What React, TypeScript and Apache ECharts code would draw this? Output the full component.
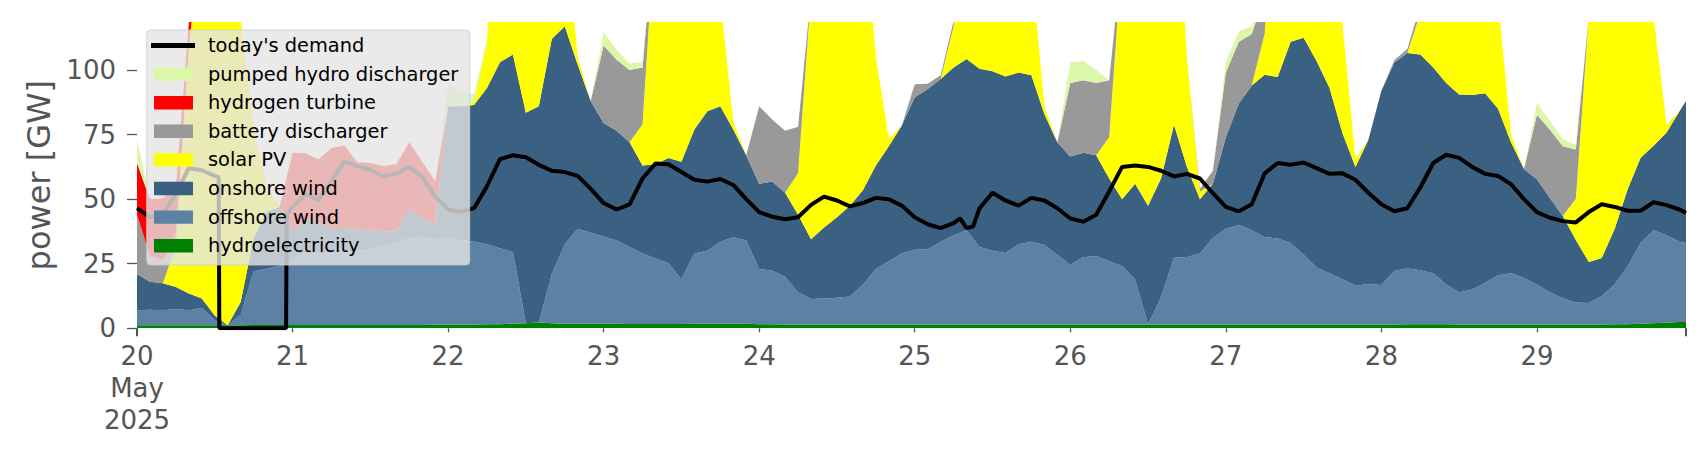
import { useEffect, useRef } from "react";
import * as echarts from "echarts";

// hours after 20 May 2025 00:00 (h = 0) … 29 May 23:00 (h = 239)
const hourCategories: string[] = [];
for (let h = 0; h < 240; h++) hourCategories.push(String(h));

// supply values are sampled every 2 h, plus the last hour
const hours: number[] = [];
for (let h = 0; h <= 238; h += 2) hours.push(h);
hours.push(239);

// GW, one row per day (20 … 29 May)
const hydro = [
  1.2, 1.2, 1.2, 1.2, 1.2, 1.2, 1.2, 1.2, 1.2, 1.3, 1.3, 1.3,
  1.3, 1.3, 1.3, 1.3, 1.3, 1.3, 1.3, 1.3, 1.3, 1.3, 1.3, 1.4,
  1.5, 1.5, 1.5, 1.6, 1.6, 1.8, 2.0, 2.2, 2.0, 1.8, 1.8, 1.8,
  1.8, 1.8, 1.7, 1.7, 1.7, 1.7, 1.7, 1.8, 1.8, 1.8, 1.8, 1.8,
  1.6, 1.6, 1.5, 1.5, 1.5, 1.5, 1.5, 1.5, 1.5, 1.5, 1.5, 1.5,
  1.5, 1.5, 1.5, 1.5, 1.5, 1.5, 1.5, 1.5, 1.5, 1.5, 1.5, 1.5,
  1.5, 1.5, 1.5, 1.5, 1.5, 1.5, 1.5, 1.5, 1.5, 1.5, 1.5, 1.5,
  1.5, 1.5, 1.5, 1.5, 1.5, 1.5, 1.5, 1.5, 1.5, 1.5, 1.5, 1.5,
  1.5, 1.5, 1.6, 1.6, 1.6, 1.6, 1.5, 1.5, 1.5, 1.5, 1.5, 1.5,
  1.5, 1.5, 1.5, 1.5, 1.5, 1.5, 1.6, 1.6, 1.8, 2.0, 2.2, 2.4, 2.4,
];
const offshore = [
  5.8, 6.0, 5.8, 6.3, 5.8, 6.8, 1.8, 0, 4, 20.8, 21.8, 22.8,
  25.7, 27.7, 27.7, 27.7, 28.2, 28.7, 29.2, 30.7, 32.2, 33.7, 34.2, 33.1,
  33.5, 32.7, 32, 30.9, 29.4, 27.7, 0, 0, 19, 30.7, 36.7, 35.2,
  33.7, 32.2, 29.8, 27.3, 25.3, 23.5, 17.3, 27.2, 28.2, 31.7, 33.5, 32.2,
  21.4, 20.7, 18.5, 12.5, 9.8, 10, 10.3, 10.8, 15.5, 21.5, 24.5, 27.5,
  28.9, 29, 32, 34.5, 36.5, 30, 28.5, 27.7, 31, 32, 30.8, 27,
  23, 26, 26.5, 24.5, 22.5, 17.5, 0, 10.5, 25.8, 26.1, 27.5, 33.5,
  37, 38.5, 36.5, 33.8, 33.3, 31.5, 27, 22, 19.8, 17.5, 15, 15.7,
  15.3, 20.7, 21.6, 20.9, 19.7, 15.4, 12.5, 13.5, 16, 19, 19.8, 18,
  15.5, 12.5, 10.1, 8.5, 8.3, 11, 15.4, 22.4, 31.2, 36, 33.8, 31.1, 30.6,
];
const onshore = [
  14, 10.8, 10.4, 8.5, 6.5, 3.5, 2, 0, 5, 13, 22, 23,
  11, 13, 11.7, 9.8, 9.3, 8.3, 7.5, 5.5, 4, 11, 7.5, 5.5,
  51, 51.8, 53, 60.5, 72, 76.5, 81.5, 83.8, 91, 84.5, 63.5, 51,
  44, 42.5, 40.5, 34, 36.5, 40.7, 45.5, 48, 54, 52.5, 41.7, 33,
  33, 34.5, 32.5, 30, 23.2, 27.5, 31.2, 35.2, 36.5, 40, 44.5, 49.5,
  59.1, 62.2, 63, 65, 66.3, 69, 69.5, 68.3, 66.5, 64.5, 50.7, 43.5,
  42, 40.5, 39, 32, 26, 37, 46, 46, 51.5, 34.9, 21, 21,
  35.5, 47, 56, 62.9, 62.5, 78, 84, 80, 71.7, 56.5, 46, 55.8,
  75.2, 80.7, 83.4, 83.5, 79.7, 78, 76.5, 75.3, 73.5, 64.5, 50.7, 42.2,
  40.7, 36.5, 31.9, 24.2, 15.9, 14.7, 21.5, 29.8, 33, 32.7, 39.8, 50.5, 55,
];
const solar = [
  0, 0, 0, 16, 95, 145, 162, 152, 110, 42, 10, 0,
  0, 0, 0, 0, 0, 0, 0, 0, 0, 0, 0, 0,
  0, 0, 1, 18, 95, 145, 162, 152, 110, 42, 3, 0,
  0, 0, 0, 16, 95, 145, 162, 152, 110, 42, 3, 0,
  0, 0, 0, 16, 95, 145, 162, 152, 110, 42, 3, 0,
  0, 0, 0, 16, 95, 145, 162, 152, 110, 42, 3, 0,
  0, 0, 0, 16, 95, 145, 162, 152, 110, 42, 3, 0,
  0, 0, 0, 16, 95, 145, 162, 152, 110, 42, 3, 0,
  0, 0, 0, 16, 95, 145, 162, 152, 110, 42, 3, 0,
  0, 0, 0, 16, 95, 145, 162, 152, 110, 50, 3, 0, 0,
];
const battery = [
  23, 10, 9, 5, 0, 0, 0, 0, 0, 0, 0, 0,
  0, 0, 0, 0, 0, 0, 0, 0, 0, 0, 0, 0,
  0, 0, 0, 0, 0, 0, 0, 0, 0, 0, 0, 0,
  30, 27.5, 28, 22, 0, 0, 0, 0, 0, 0, 0, 0,
  30, 24, 24, 18, 0, 0, 0, 0, 0, 0, 0, 0,
  5, 2, 1.5, 2, 0, 0, 0, 0, 0, 0, 0, 0,
  28.5, 28, 28, 22, 0, 0, 0, 0, 0, 0, 1, 5,
  25, 24, 20, 15, 0, 0, 0, 0, 0, 0, 0, 0,
  0, 1, 1.5, 3, 0, 0, 0, 0, 0, 0, 0, 0,
  25, 26.4, 27, 19, 0, 0, 0, 0, 0, 0, 0, 0, 0,
];
const hydrogen = [
  20, 22, 24, 18, 10, 0, 0, 0, 0, 0, 0, 0,
  30, 25.8, 24.8, 31, 32, 26, 26, 25.3, 26, 26, 21.5, 17,
  0, 0, 0, 0, 0, 0, 0, 0, 0, 0, 0, 0,
  0, 0, 0, 0, 0, 0, 0, 0, 0, 0, 0, 0,
  0, 0, 0, 0, 0, 0, 0, 0, 0, 0, 0, 0,
  0, 0, 0, 0, 0, 0, 0, 0, 0, 0, 0, 0,
  0, 0, 0, 0, 0, 0, 0, 0, 0, 0, 0, 0,
  0, 0, 0, 0, 0, 0, 0, 0, 0, 0, 0, 0,
  0, 0, 0, 0, 0, 0, 0, 0, 0, 0, 0, 0,
  0, 0, 0, 0, 0, 0, 0, 0, 0, 0, 0, 0, 0,
];
const pumped = [
  9, 0, 0, 0, 0, 0, 0, 0, 0, 0, 0, 0,
  0, 0, 0, 0, 0, 0, 0, 0, 0, 0, 0, 0,
  9, 5, 3, 1, 0, 0, 0, 0, 0, 0, 0, 0,
  5, 4, 2.5, 2, 0, 0, 0, 0, 0, 0, 0, 0,
  0, 0, 0, 0, 0, 0, 0, 0, 0, 0, 0, 0,
  0, 0, 0, 0, 0, 0, 0, 0, 0, 0, 0, 0,
  8, 7.5, 5, 0, 0, 0, 0, 0, 0, 0, 0, 0,
  4, 4, 3, 0, 0, 0, 0, 0, 0, 0, 0, 0,
  0, 0, 0, 0, 0, 0, 0, 0, 0, 0, 0, 0,
  4.5, 3.5, 2.6, 2, 0, 0, 0, 0, 0, 0, 0, 0, 0,
];

const demandHours = [
  0, 2, 4, 6, 8, 10, 12, 12.6, 12.7, 14, 16, 18, 20, 22, 23, 23.1,
  24, 26, 28, 30, 32, 34, 36, 38, 40, 42, 44, 46,
  48, 50, 52, 54, 56, 58, 60, 62, 64, 66, 68, 70,
  72, 74, 76, 78, 80, 82, 84, 86, 88, 90, 92, 94,
  96, 98, 100, 102, 104, 106, 108, 110, 112, 114, 116, 118,
  120, 122, 124, 126, 127, 128, 129, 130, 132, 134, 136, 138, 140, 142,
  144, 146, 148, 150, 152, 154, 156, 158, 160, 162, 164, 166,
  168, 170, 172, 174, 176, 178, 180, 182, 184, 186, 188, 190,
  192, 194, 196, 198, 200, 202, 204, 206, 208, 210, 212, 214,
  216, 218, 220, 222, 224, 226, 228, 230, 232, 234, 236, 238, 239,
];
const demand = [
  46.5, 43, 44, 52, 62, 61.2, 59, 58.5, 0, 0, 0, 0, 0, 0, 0, 44,
  47, 52, 49.7, 57, 64.6, 62.7, 61.4, 58.8, 59.8, 62.5, 58.7, 51,
  46, 45, 46.5, 55, 65.5, 67, 66.2, 63.3, 61, 60.5, 59, 54,
  48.5, 46, 48, 58, 63.8, 63.5, 60.5, 57.5, 56.8, 57.8, 55.5, 50,
  45, 43.2, 42.2, 43, 47.8, 51, 49.5, 47.2, 48.5, 50.5, 50, 47.5,
  43, 40.3, 38.8, 40.7, 42.6, 38.8, 39.4, 46.5, 52.5, 49.5, 47.5, 50.5, 49.5, 46.5,
  42.5, 41.3, 44, 53, 62.5, 63, 62.5, 61, 58.8, 59.8, 58, 52.3,
  47, 45.3, 48, 60, 64, 63.3, 64.2, 62, 59.8, 60, 57.5, 52.5,
  48, 45.3, 46.5, 54.5, 64, 67.2, 66, 62.5, 59.8, 59, 55.8, 50,
  45, 42.8, 41.5, 41, 45, 48, 47, 45.5, 45.5, 48.8, 47.7, 46, 44.6,
];

const dayTicks = [0, 24, 48, 72, 96, 120, 144, 168, 192, 216];
const yTicks = [0, 25, 50, 75, 100];

const FONT = "DejaVu Sans";
const AXIS_GRAY = "#555555";

const stackDefs = [
  { name: "hydroelectricity", data: hydro, color: "#008000" },
  { name: "offshore wind", data: offshore, color: "#5b82a3" },
  { name: "onshore wind", data: onshore, color: "#3b6182" },
  { name: "solar PV", data: solar, color: "#ffff00" },
  { name: "battery discharger", data: battery, color: "#999999" },
  { name: "hydrogen turbine", data: hydrogen, color: "#ff0000" },
  { name: "pumped hydro discharger", data: pumped, color: "#dcf7aa" },
];

const legendRows = [
  { name: "today's demand", color: "#000000", line: true },
  { name: "pumped hydro discharger", color: "#dcf7aa" },
  { name: "hydrogen turbine", color: "#ff0000" },
  { name: "battery discharger", color: "#999999" },
  { name: "solar PV", color: "#ffff00" },
  { name: "onshore wind", color: "#3b6182" },
  { name: "offshore wind", color: "#5b82a3" },
  { name: "hydroelectricity", color: "#008000" },
];

export default function App() {
  const ref = useRef<HTMLDivElement>(null);

  useEffect(() => {
    document.body.style.margin = "0";
    const chart = echarts.init(ref.current as HTMLDivElement, null, { renderer: "svg" });

    const series: any[] = stackDefs.map((d) => ({
      name: d.name,
      type: "line",
      xAxisIndex: 0,
      stack: "supply",
      symbol: "none",
      showSymbol: false,
      lineStyle: { width: 0 },
      itemStyle: { color: d.color },
      areaStyle: { color: d.color, opacity: 1 },
      data: hours.map((h, i) => [h, d.data[i]]),
      z: 2,
    }));
    series.push({
      name: "today's demand",
      type: "line",
      xAxisIndex: 1,
      symbol: "none",
      showSymbol: false,
      lineStyle: { color: "#000000", width: 4 },
      itemStyle: { color: "#000000" },
      data: demandHours.map((h, i) => [h, demand[i]]),
      z: 5,
    });

    const legendLeft = 146.7;
    const legendTop = 30;
    const rowH = 28.6;
    const firstRow = 45.5;
    const legendChildren: any[] = [
      {
        type: "rect",
        z: 100,
        shape: { x: legendLeft, y: legendTop, width: 323, height: 235, r: 4 },
        style: { fill: "rgba(229,229,229,0.8)", stroke: "rgba(204,204,204,0.8)", lineWidth: 1 },
      },
    ];
    legendRows.forEach((r, k) => {
      const cy = firstRow + k * rowH;
      if (r.line) {
        legendChildren.push({
          type: "line",
          z: 101,
          shape: { x1: 151, y1: cy, x2: 195, y2: cy },
          style: { stroke: r.color, lineWidth: 5 },
        });
      } else {
        legendChildren.push({
          type: "rect",
          z: 101,
          shape: { x: 154, y: cy - 6.7, width: 39, height: 13.4 },
          style: { fill: r.color },
        });
      }
      legendChildren.push({
        type: "text",
        z: 101,
        x: 208,
        y: cy,
        style: {
          text: r.name,
          fill: "#000000",
          fontSize: 19.4,
          fontFamily: FONT,
          verticalAlign: "middle",
          align: "left",
        },
      });
    });

    const option: any = {
      animation: false,
      backgroundColor: "#ffffff",
      grid: { left: 137, right: 20, top: 22, bottom: 131.7, outerBoundsMode: "none" },
      xAxis: [
        {
          type: "category",
          data: hourCategories,
          boundaryGap: false,
          position: "bottom",
          show: false,
        },
        {
          type: "value",
          min: 0,
          max: 239,
          position: "bottom",
          axisLine: { show: false },
          splitLine: { show: false },
          axisTick: {
            show: true,
            customValues: dayTicks,
            length: 4,
            lineStyle: { color: AXIS_GRAY, width: 1.3 },
          },
          axisLabel: {
            customValues: dayTicks,
            margin: 12,
            fontSize: 26,
            lineHeight: 32,
            color: AXIS_GRAY,
            fontFamily: FONT,
            formatter: (v: number) => (v === 0 ? "20\nMay\n2025" : String(20 + Math.round(v / 24))),
          },
        },
        {
          type: "value",
          min: 0,
          max: 239,
          position: "bottom",
          axisLine: { show: false },
          splitLine: { show: false },
          axisLabel: { show: false },
          axisTick: {
            show: true,
            customValues: [0, 239],
            length: 8,
            lineStyle: { color: AXIS_GRAY, width: 2 },
          },
        },
      ],
      yAxis: {
        type: "value",
        min: 0,
        max: 118.6,
        name: "power [GW]",
        nameLocation: "middle",
        nameGap: 82,
        nameTextStyle: { fontSize: 32, color: AXIS_GRAY, fontFamily: FONT },
        axisLine: { show: false },
        splitLine: { show: false },
        axisTick: {
          show: true,
          customValues: yTicks,
          length: 10,
          lineStyle: { color: AXIS_GRAY, width: 1.3 },
        },
        axisLabel: {
          customValues: yTicks,
          margin: 21,
          fontSize: 26,
          color: AXIS_GRAY,
          fontFamily: FONT,
        },
      },
      series,
      graphic: legendChildren,
    };

    chart.setOption(option);
    return () => chart.dispose();
  }, []);

  return (
    <div
      ref={ref}
      style={{ position: "fixed", left: 0, top: 0, width: 1706, height: 460, background: "#fff" }}
    />
  );
}
